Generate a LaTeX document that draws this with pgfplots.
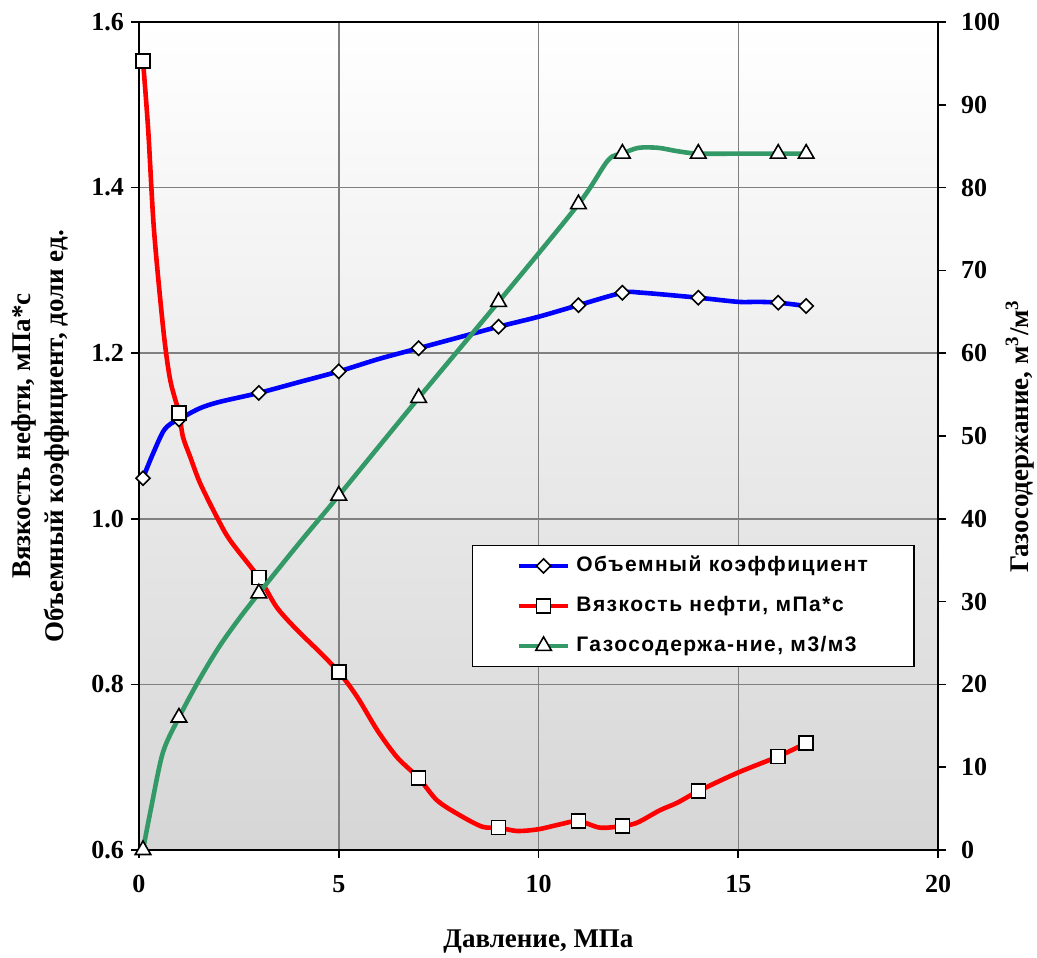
\documentclass[border=0pt]{standalone}
\usepackage{pgfplots}
\pgfplotsset{compat=1.18}
\usepackage{fontspec}
\setmainfont{Liberation Serif}
\newfontfamily\legfont[LetterSpace=7]{Liberation Sans}
\definecolor{exgreen}{RGB}{51,153,102}
\definecolor{bgbot}{RGB}{214,214,214}

\pgfplotstableread{
x y
0.1 1.049
0.3 1.073
0.6 1.105
0.8 1.115
1.0 1.120
1.5 1.133
2.0 1.141
3.0 1.152
4.0 1.165
5.0 1.178
6.0 1.193
7.0 1.206
8.0 1.219
9.0 1.232
10.0 1.244
11.0 1.258
12.1 1.273
12.6 1.273
14.0 1.267
15.0 1.262
15.5 1.262
16.0 1.261
16.7 1.257
}\bvol

\pgfplotstableread{
x y
0.1 1.553
0.23 1.470
0.375 1.349
0.61 1.228
0.78 1.168
1.0 1.128
1.1 1.099
1.28 1.075
1.53 1.043
1.95 1.002
2.28 0.974
3.0 0.929
3.45 0.893
3.95 0.866
4.46 0.842
5.0 0.815
5.46 0.785
5.96 0.745
6.46 0.712
7.0 0.687
7.46 0.660
8.03 0.642
8.6 0.628
9.0 0.627
9.46 0.623
9.99 0.625
10.54 0.631
11.0 0.635
11.54 0.627
12.1 0.629
12.47 0.633
13.04 0.648
13.47 0.657
14.0 0.671
14.97 0.693
16.0 0.713
16.7 0.729
}\visc

\pgfplotstableread{
x y
0.1 0
0.3 5.0
0.6 11.8
1.0 16.0
1.5 20.5
2.0 24.5
2.5 27.9
3.0 31.0
4.0 37.0
5.0 42.8
7.0 54.6
9.0 66.2
11.0 78.0
11.74 83.3
12.1 84.1
12.5 84.8
13.0 84.8
13.47 84.4
14.0 84.1
15.0 84.1
16.0 84.1
16.7 84.1
}\gas

\tikzset{mk/.style={solid, fill=white, draw=black, line width=0.8pt}}
\pgfplotsset{
  common/.style={
    scale only axis, width=399.5pt, height=414pt,
    xmin=0, xmax=20,
    clip=false,
    tick align=outside,
    major tick length=4pt,
    tick style={black, line width=0.8pt},
    axis line style={black, line width=1.3pt},
    /pgf/number format/assume math mode=true,
    ticklabel style={font=\bfseries\fontsize{13}{15}\selectfont},
  },
}

\begin{document}
\begin{tikzpicture}
\path[use as bounding box] (-69.5pt,-53.5pt) rectangle (449pt,425pt);
\begin{axis}[common,
  ymin=0.6, ymax=1.6,
  xtick={0,5,10,15,20},
  ytick={0.6,0.8,1.0,1.2,1.4,1.6},
  yticklabel style={/pgf/number format/fixed, /pgf/number format/fixed zerofill, /pgf/number format/precision=1},
  xticklabel style={yshift=-5pt},
  tick pos=left,
  grid=major,
  major grid style={draw=gray, line width=0.75pt},
  axis background/.style={shade, top color=white, bottom color=bgbot},
  xlabel={Давление, МПа},
  every axis x label/.style={at={(axis description cs:0.5,-0.111)}, anchor=center, font=\bfseries\fontsize{13.5}{16.5}\selectfont},
  ylabel={Вязкость нефти, мПа*с\\Объемный коэффициент, доли ед.},
  every axis y label/.style={at={(axis description cs:-0.1227,0.5)}, rotate=90, anchor=center, align=center, font=\bfseries\fontsize{13.5}{16.5}\selectfont},
]
\addplot[blue, line width=2.3pt, smooth, mark=square*, mark size=2.5pt,
  mark options={mk, rotate=45}, mark indices={1,5,8,10,12,14,16,17,19,22,23}] table[x=x,y=y] {\bvol};
\addplot[red, line width=2.3pt, smooth, mark=square*, mark size=3.5pt,
  mark options={mk}, mark indices={1,6,12,16,20,24,28,30,34,36,37}] table[x=x,y=y] {\visc};
\end{axis}
\begin{axis}[common,
  ymin=0, ymax=100,
  axis x line=none,
  axis y line*=right,
  ytick={0,10,...,100},
  yticklabel style={xshift=4pt},
  ylabel={Газосодержание, м\textsuperscript{3}/м\textsuperscript{3}},
  every axis y label/.style={at={(axis description cs:1.1026,0.5)}, rotate=90, anchor=center, font=\bfseries\fontsize{13.5}{16.5}\selectfont},
  legend image code/.code={\draw[mark repeat=2, mark phase=2, #1] plot coordinates {(0pt,0pt) (12.25pt,0pt) (24.5pt,0pt)};},
  legend style={at={(axis description cs:0.417,0.221)}, anchor=south west,
    draw=black, line width=0.6pt, fill=white,
    font=\legfont\bfseries\fontsize{10.5}{12}\selectfont,
    inner xsep=22pt, inner ysep=4pt,
    row sep=7.5pt, column sep=2pt,
    nodes={inner sep=1pt, text height=8pt, text depth=2.5pt}},
  legend cell align=left,
]
\addplot[exgreen, line width=2.3pt, smooth, mark=triangle*, mark size=4.5pt,
  mark options={mk}, mark indices={1,4,8,10,11,12,13,15,19,21,22}, forget plot] table[x=x,y=y] {\gas};
\addlegendimage{blue, line width=2.3pt, mark=square*, mark size=2.5pt, mark options={mk, rotate=45}}
\addlegendentry{Объемный коэффициент}
\addlegendimage{red, line width=2.3pt, mark=square*, mark size=3.5pt, mark options={mk}}
\addlegendentry{Вязкость нефти, мПа*с}
\addlegendimage{exgreen, line width=2.3pt, mark=triangle*, mark size=4.5pt, mark options={mk}}
\addlegendentry{Газосодержа-ние, м3/м3}
\end{axis}
\end{tikzpicture}
\end{document}
